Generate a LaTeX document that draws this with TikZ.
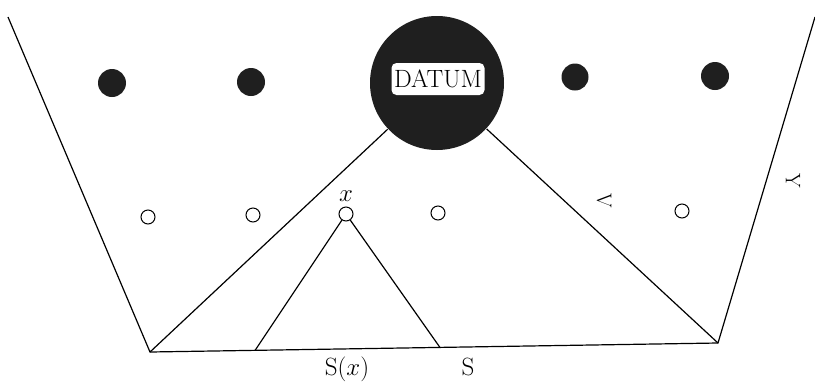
\documentclass[tikz,border=0pt]{standalone}
\begin{document}
\begin{tikzpicture}[x=1pt,y=-1pt,line width=1.2pt,
  bigdot/.style={circle,fill=black!88,draw=none,minimum size=28pt,inner sep=0pt},
  opendot/.style={circle,draw,line width=1pt,minimum size=14pt,inner sep=0pt},
  lbl/.style={font=\fontsize{25}{30}\selectfont,inner sep=0pt},
  rotlbl/.style={font=\fontsize{21}{25}\selectfont,inner sep=0pt,rotate=-90}]
\useasboundingbox (0,0) rectangle (815,384);
% corners
\coordinate (tl) at (8,17);
\coordinate (bl) at (150,352);
\coordinate (br) at (718,343);
\coordinate (tr) at (815,17);
\coordinate (sx) at (255,350.5);
\coordinate (s) at (440,347.5);
% big datum circle
\node[circle,fill=black!88,minimum size=134pt,inner sep=0pt] (datum) at (437,83) {};
\node[lbl,fill=white,rounded corners=5pt,minimum width=93pt,minimum height=32pt] (dlabel) at (438,79) {DATUM};
% dots
\node[bigdot] (d1) at (112,83) {};
\node[bigdot] (d2) at (251,82) {};
\node[bigdot,minimum size=27pt] (d3) at (575,77) {};
\node[bigdot] (d4) at (715,76) {};
% open circles
\node[opendot] (o1) at (148,217) {};
\node[opendot] (o2) at (253,215) {};
\node[opendot] (ox) at (346,214) {};
\node[opendot] (o4) at (438,213) {};
\node[opendot] (o5) at (682,211) {};
% outer trapezoid
\draw (tl) -- (bl) -- (br) -- (tr);
% cone from datum
\draw (bl) -- (datum);
\draw (br) -- (datum);
% cone from x
\draw (sx) -- (ox) -- (s);
% labels
\node[lbl] (xl) at (346,196) {$x$};
\node[lbl] (sxl) at (347,369) {S$(x)$};
\node[lbl] (sl) at (468,367) {S};
\node[rotlbl] (vl) at (604,201) {V};
\node[rotlbl] (yl) at (793,181) {Y};
\end{tikzpicture}
\end{document}
